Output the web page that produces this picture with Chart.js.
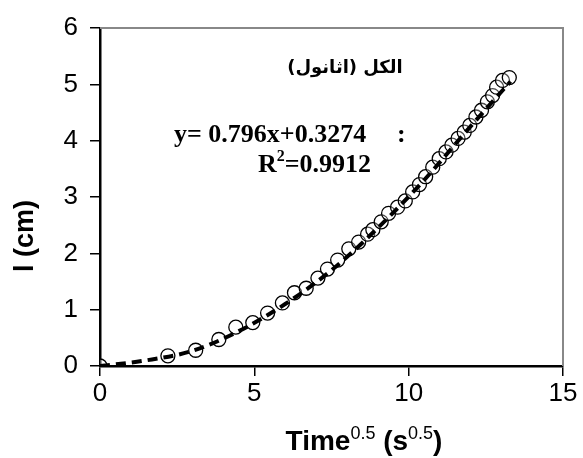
<!DOCTYPE html>
<html>
<head>
<meta charset="utf-8">
<script src="https://cdn.jsdelivr.net/npm/chart.js@4/dist/chart.umd.min.js"></script>
<style>
  html, body { margin: 0; padding: 0; background: #fff; }
  #chart { display: block; }
</style>
</head>
<body>
<canvas id="chart" width="583" height="458"></canvas>
<script>
// measured points: square root of time (s^0.5) and length l (cm)
const timeRoot = [0, 2.2, 3.1, 3.85, 4.4, 4.95, 5.43, 5.91, 6.3, 6.68, 7.06, 7.37, 7.7, 8.06, 8.38, 8.67, 8.84,
    9.11, 9.35, 9.64, 9.89, 10.13, 10.35, 10.55, 10.78, 10.99, 11.21, 11.4, 11.6, 11.8, 11.98, 12.18, 12.36,
    12.55, 12.72, 12.85, 13.04, 13.26]
const lengthCm = [0, 0.18, 0.28, 0.47, 0.69, 0.77, 0.94, 1.12, 1.3, 1.38, 1.56, 1.72, 1.88, 2.08, 2.2, 2.34, 2.42,
    2.56, 2.71, 2.82, 2.93, 3.09, 3.22, 3.36, 3.53, 3.68, 3.8, 3.92, 4.04, 4.15, 4.27, 4.42, 4.54,
    4.69, 4.8, 4.95, 5.07, 5.12]

// dashed trend curve
const trendX = [0, 1.5, 3, 4.5, 6, 7.5, 9, 10.5, 12, 13.3]
const trendY = [0.0, 0.1, 0.27, 0.62, 1.1, 1.7, 2.45, 3.3, 4.25, 5.05]

const xTicks = [0, 5, 10, 15]
const yTicks = [0, 1, 2, 3, 4, 5, 6]

const titleText = "الكل (اثانول)"
const equationText = "y= 0.796x+0.3274"
const r2Text = "=0.9912"

const points = timeRoot.map((x, i) => ({ x: x, y: lengthCm[i] }))
const trend = trendX.map((x, i) => ({ x: x, y: trendY[i] }))

// grey frame on top/right, axis titles and the text inside the plot
const extras = {
    id: 'extras',
    afterDraw(chart) {
        const ctx = chart.ctx
        const a = chart.chartArea
        ctx.save()
        ctx.strokeStyle = '#888'
        ctx.lineWidth = 2
        ctx.beginPath()
        ctx.moveTo(a.left, a.top)
        ctx.lineTo(a.right, a.top)
        ctx.lineTo(a.right, a.bottom)
        ctx.stroke()

        ctx.fillStyle = '#000'
        ctx.textBaseline = 'alphabetic'

        // x title with superscripts
        const big = 'bold 28px "Liberation Sans"'
        const sup = '18px "Liberation Sans Narrow", "Liberation Sans"'
        const parts = [
            ['Time', big, 0],
            ['0.5', sup, -11],
            [' (s', big, 0],
            ['0.5', sup, -11],
            [')', big, 0]
        ]
        let total = 0
        for (const p of parts) { ctx.font = p[1]; total += ctx.measureText(p[0]).width }
        let x = 364 - total / 2
        for (const p of parts) {
            ctx.font = p[1]
            ctx.textAlign = 'left'
            ctx.fillText(p[0], x, 450 + p[2])
            x += ctx.measureText(p[0]).width
        }

        // y title
        ctx.save()
        ctx.translate(33, 236)
        ctx.rotate(-Math.PI / 2)
        ctx.font = 'bold 27px "Liberation Sans"'
        ctx.textAlign = 'center'
        ctx.fillText('l (cm)', 0, 0)
        ctx.restore()

        // Arabic caption
        ctx.font = 'bold 18px "DejaVu Sans"'
        ctx.textAlign = 'center'
        ctx.direction = 'rtl'
        ctx.fillText(titleText, 345, 73)
        ctx.direction = 'ltr'

        // regression text
        ctx.font = 'bold 26px "Liberation Serif"'
        ctx.textAlign = 'left'
        ctx.fillText(equationText, 174, 142)
        ctx.fillText(':', 397, 142)
        ctx.textAlign = 'right'
        const rw = ctx.measureText(r2Text).width
        ctx.fillText(r2Text, 371, 172)
        ctx.font = 'bold 16px "Liberation Serif"'
        ctx.fillText('2', 371 - rw, 161)
        const w2 = ctx.measureText('2').width
        ctx.font = 'bold 26px "Liberation Serif"'
        ctx.fillText('R', 371 - rw - w2, 172)
        ctx.restore()
    }
}

new Chart(document.getElementById('chart'), {
    type: 'scatter',
    data: {
        datasets: [
            {
                label: 'trend',
                data: trend,
                showLine: true,
                borderColor: '#000',
                borderWidth: 4,
                borderDash: [10, 6],
                pointRadius: 0,
                cubicInterpolationMode: 'monotone',
                order: 0
            },
            {
                label: 'l',
                data: points,
                pointRadius: 7,
                pointBorderWidth: 1.3,
                pointBorderColor: '#000',
                pointBackgroundColor: 'rgba(255,255,255,0.3)',
                order: 1
            }
        ]
    },
    options: {
        responsive: false,
        animation: false,
        devicePixelRatio: 1,
        layout: { padding: { top: 28, right: 20, left: 0, bottom: 0 } },
        plugins: {
            legend: { display: false },
            tooltip: { enabled: false }
        },
        scales: {
            x: {
                type: 'linear',
                min: 0,
                max: 15,
                afterBuildTicks: scale => { scale.ticks = xTicks.map(v => ({ value: v })) },
                afterFit: scale => { scale.height = 92 },
                ticks: { color: '#000', font: { family: 'Liberation Sans', size: 26 }, padding: 2 },
                grid: { drawOnChartArea: false, tickLength: 10, color: '#000', lineWidth: 1.5 },
                border: { color: '#000', width: 2.5 }
            },
            y: {
                type: 'linear',
                min: 0,
                max: 6,
                afterBuildTicks: scale => { scale.ticks = yTicks.map(v => ({ value: v })) },
                afterFit: scale => { scale.width = 100 },
                ticks: { color: '#000', font: { family: 'Liberation Sans', size: 26 }, padding: 12 },
                grid: { drawOnChartArea: false, tickLength: 10, color: '#000', lineWidth: 1.5 },
                border: { color: '#000', width: 2.5 }
            }
        }
    },
    plugins: [extras]
})
</script>
</body>
</html>
